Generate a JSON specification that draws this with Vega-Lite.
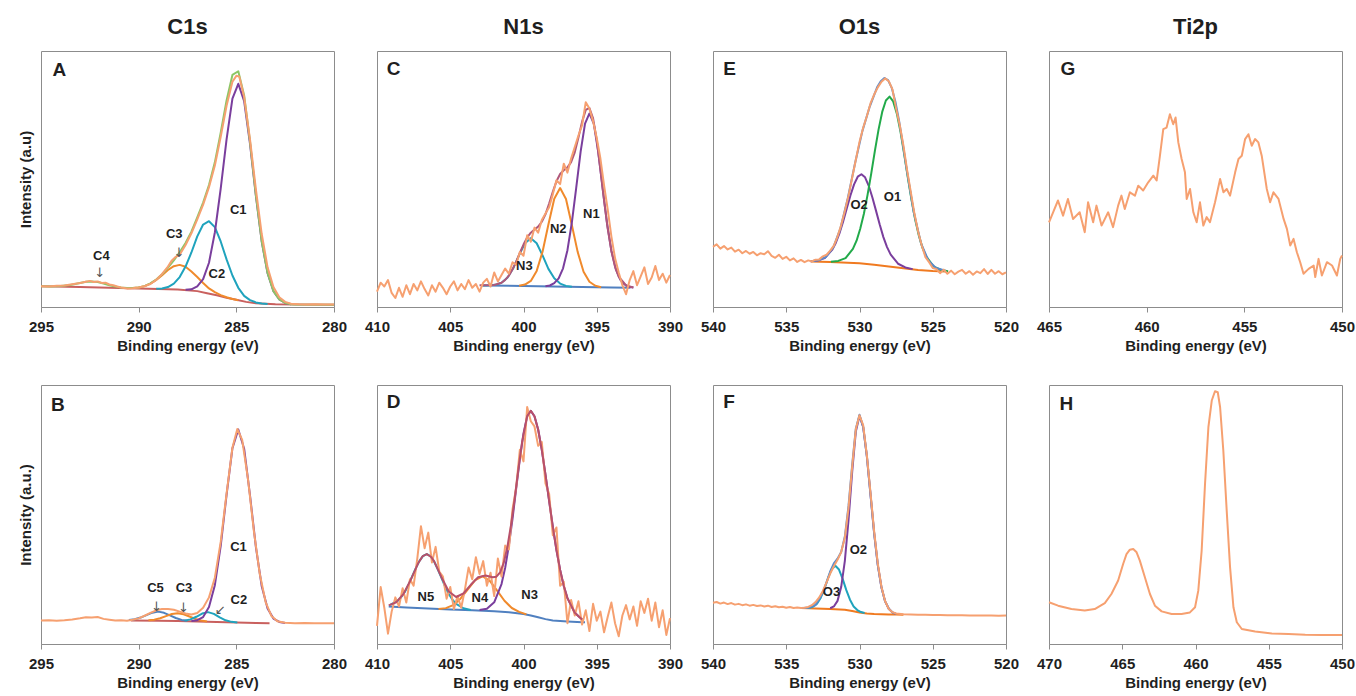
{
"$schema": "https://vega.github.io/schema/vega-lite/v6.json",
"background": "white",
"padding": {"left": 17, "top": 15, "right": 0, "bottom": 0},
"config": {
  "font": "Liberation Sans",
  "view": {"stroke": "#8c8c8c", "strokeWidth": 1},
  "legend": {"disable": true},
  "axisX": {"grid": false, "labelFlush": false, "labelOverlap": false, "labelFontSize": 15, "labelFontWeight": "bold", "labelColor": "#1f1f1f", "labelPadding": 7, "tickSize": 5, "tickColor": "#8c8c8c", "domainColor": "#8c8c8c", "titleFontSize": 15, "titleFontWeight": "bold", "titleColor": "#1f1f1f", "titlePadding": 4},
  "axisY": {"grid": false, "labels": false, "ticks": false, "domain": false, "titleFontSize": 15, "titleFontWeight": "bold", "titleColor": "#1f1f1f", "titlePadding": 8},
  "title": {"fontSize": 22, "fontWeight": "bold", "color": "#1f1f1f", "anchor": "middle", "baseline": "alphabetic", "offset": 12.5},
  "line": {"strokeWidth": 2, "strokeJoin": "round"},
  "text": {"font": "Liberation Sans"}
},
"datasets": {
"A_bg": [{"E":295,"I":8.1},{"E":293,"I":7.8},{"E":291,"I":7.4},{"E":289,"I":7.0},{"E":288,"I":6.8},{"E":287,"I":6.2},{"E":286.5,"I":5.4},{"E":286,"I":4.6},{"E":285.5,"I":3.6},{"E":285,"I":2.8},{"E":284.5,"I":2.0},{"E":284,"I":1.5},{"E":283,"I":1.1},{"E":282,"I":1.0},{"E":280,"I":0.9}],
"A_C1": [{"E":287.6,"I":6.7},{"E":287.3,"I":6.9},{"E":287.0,"I":8.1},{"E":286.7,"I":10.9},{"E":286.4,"I":17.3},{"E":286.1,"I":29.1},{"E":285.8,"I":46.2},{"E":285.5,"I":65.5},{"E":285.2,"I":81.4},{"E":284.9,"I":87.2},{"E":284.6,"I":80.4},{"E":284.3,"I":63.7},{"E":284.0,"I":43.5},{"E":283.7,"I":25.6},{"E":283.4,"I":13.2},{"E":283.1,"I":6.2},{"E":282.8,"I":3.0},{"E":282.5,"I":1.6},{"E":282.2,"I":1.1}],
"A_C2": [{"E":289.1,"I":7.1},{"E":288.8,"I":7.25},{"E":288.5,"I":7.8},{"E":288.2,"I":9.1},{"E":287.9,"I":11.7},{"E":287.6,"I":15.8},{"E":287.3,"I":21.3},{"E":287.0,"I":27.6},{"E":286.7,"I":32.2},{"E":286.4,"I":33.5},{"E":286.1,"I":31.2},{"E":285.8,"I":25.6},{"E":285.5,"I":18.6},{"E":285.2,"I":12.3},{"E":284.9,"I":7.5},{"E":284.6,"I":4.35},{"E":284.3,"I":2.7},{"E":284.0,"I":1.8},{"E":283.7,"I":1.4},{"E":283.4,"I":1.2}],
"A_C3": [{"E":290.6,"I":7.35},{"E":290.3,"I":7.45},{"E":290.0,"I":7.65},{"E":289.7,"I":8.15},{"E":289.4,"I":9.15},{"E":289.1,"I":10.6},{"E":288.8,"I":12.45},{"E":288.5,"I":14.45},{"E":288.2,"I":15.95},{"E":287.9,"I":16.45},{"E":287.6,"I":15.7},{"E":287.3,"I":13.85},{"E":287.0,"I":11.7},{"E":286.7,"I":9.4},{"E":286.4,"I":7.25},{"E":286.1,"I":5.8},{"E":285.8,"I":4.65},{"E":285.5,"I":3.8},{"E":285.2,"I":3.15},{"E":284.9,"I":2.6}],
"A_fit": [{"E":295,"I":8.1},{"E":294.5,"I":8.05},{"E":294,"I":8.2},{"E":293.5,"I":8.6},{"E":293,"I":9.4},{"E":292.7,"I":9.85},{"E":292.4,"I":10.0},{"E":292.1,"I":9.75},{"E":291.8,"I":9.15},{"E":291.5,"I":8.5},{"E":291.2,"I":7.98},{"E":290.9,"I":7.65},{"E":290.6,"I":7.45},{"E":290.3,"I":7.45},{"E":290.0,"I":7.65},{"E":289.7,"I":8.15},{"E":289.4,"I":9.2},{"E":289.1,"I":10.7},{"E":288.8,"I":12.75},{"E":288.5,"I":15.35},{"E":288.2,"I":18.2},{"E":287.9,"I":21.4},{"E":287.6,"I":25.0},{"E":287.3,"I":29.45},{"E":287.0,"I":35.0},{"E":286.7,"I":40.8},{"E":286.4,"I":47.65},{"E":286.1,"I":56.5},{"E":285.8,"I":68.05},{"E":285.5,"I":80.7},{"E":285.2,"I":90.66},{"E":284.9,"I":92.1},{"E":284.6,"I":82.65},{"E":284.3,"I":64.6},{"E":284.0,"I":43.8},{"E":283.7,"I":25.7},{"E":283.4,"I":13.3},{"E":283.1,"I":6.2},{"E":282.8,"I":2.95},{"E":282.5,"I":1.6},{"E":282.2,"I":1.1},{"E":282.0,"I":1.0},{"E":280.0,"I":0.9}],
"A_raw": [{"E":295,"I":8.1},{"E":294.6,"I":8.0},{"E":294.2,"I":8.3},{"E":293.8,"I":8.4},{"E":293.4,"I":8.9},{"E":293.0,"I":9.4},{"E":292.7,"I":9.9},{"E":292.5,"I":10.2},{"E":292.3,"I":9.8},{"E":292.1,"I":10.0},{"E":291.9,"I":9.4},{"E":291.7,"I":9.5},{"E":291.5,"I":8.8},{"E":291.3,"I":8.5},{"E":291.1,"I":8.0},{"E":290.9,"I":7.6},{"E":290.6,"I":7.2},{"E":290.3,"I":7.3},{"E":290.0,"I":7.6},{"E":289.7,"I":8.1},{"E":289.4,"I":9.0},{"E":289.1,"I":10.6},{"E":288.8,"I":12.9},{"E":288.5,"I":15.8},{"E":288.3,"I":18.2},{"E":288.1,"I":19.6},{"E":287.9,"I":20.4},{"E":287.6,"I":24.2},{"E":287.3,"I":28.8},{"E":287.0,"I":34.2},{"E":286.7,"I":40.0},{"E":286.4,"I":46.8},{"E":286.1,"I":55.3},{"E":285.8,"I":66.5},{"E":285.5,"I":78.6},{"E":285.2,"I":88.0},{"E":285.0,"I":90.3},{"E":284.85,"I":90.0},{"E":284.6,"I":82.0},{"E":284.3,"I":65.5},{"E":284.0,"I":46.0},{"E":283.7,"I":28.5},{"E":283.4,"I":15.5},{"E":283.1,"I":7.8},{"E":282.8,"I":3.8},{"E":282.5,"I":2.0},{"E":282.2,"I":1.3},{"E":281.8,"I":1.1},{"E":281.4,"I":1.0},{"E":281.0,"I":1.1},{"E":280.5,"I":1.0},{"E":280.0,"I":1.0}],
"A_lab": [{"E":284.9,"I":37.9,"t":"C1"},{"E":286.0,"I":12.8,"t":"C2"},{"E":288.18,"I":28.6,"t":"C3"},{"E":291.91,"I":19.8,"t":"C4"}],
"A_arr": [{"E":287.94,"I":21.2,"t":"↓"},{"E":292.0,"I":13.3,"t":"↓"}],
"A_let": [{"E":294.06,"I":92.4,"t":"A"}],
"B_bg": [{"E":290.4,"I":9.1},{"E":289,"I":9.0},{"E":288,"I":8.9},{"E":287,"I":8.7},{"E":286,"I":8.5},{"E":285,"I":8.3},{"E":284,"I":8.1},{"E":283.3,"I":8.0}],
"B_C5": [{"E":290.5,"I":9.25},{"E":290.2,"I":9.55},{"E":289.9,"I":10.2},{"E":289.6,"I":11.15},{"E":289.3,"I":12.1},{"E":289.0,"I":12.5},{"E":288.7,"I":12.05},{"E":288.4,"I":11.05},{"E":288.1,"I":10.05},{"E":287.8,"I":9.3},{"E":287.5,"I":8.95}],
"B_C3": [{"E":289.5,"I":9.13},{"E":289.2,"I":9.4},{"E":288.9,"I":9.96},{"E":288.6,"I":10.77},{"E":288.3,"I":11.58},{"E":288.0,"I":11.9},{"E":287.7,"I":11.5},{"E":287.4,"I":10.62},{"E":287.1,"I":9.7},{"E":286.8,"I":9.06},{"E":286.5,"I":8.73}],
"B_C2": [{"E":287.65,"I":9.03},{"E":287.35,"I":9.5},{"E":287.05,"I":10.51},{"E":286.75,"I":11.74},{"E":286.45,"I":12.3},{"E":286.15,"I":11.62},{"E":285.85,"I":10.27},{"E":285.55,"I":9.14},{"E":285.25,"I":8.55},{"E":284.95,"I":8.3}],
"B_C1": [{"E":287.3,"I":8.85},{"E":287.0,"I":9.2},{"E":286.7,"I":10.4},{"E":286.4,"I":14.3},{"E":286.1,"I":22.7},{"E":285.8,"I":37.9},{"E":285.5,"I":57.6},{"E":285.2,"I":75.6},{"E":284.9,"I":82.8},{"E":284.6,"I":75.4},{"E":284.3,"I":57.4},{"E":284.0,"I":37.5},{"E":283.7,"I":22.3},{"E":283.4,"I":13.7},{"E":283.1,"I":9.8},{"E":282.8,"I":8.5},{"E":282.5,"I":8.1}],
"B_raw": [{"E":295,"I":9.1},{"E":294.6,"I":9.2},{"E":294.2,"I":9.0},{"E":293.8,"I":9.2},{"E":293.4,"I":9.5},{"E":293.0,"I":9.9},{"E":292.7,"I":10.3},{"E":292.4,"I":10.2},{"E":292.1,"I":10.4},{"E":291.8,"I":9.7},{"E":291.5,"I":9.4},{"E":291.2,"I":9.1},{"E":290.9,"I":9.2},{"E":290.6,"I":9.0},{"E":290.3,"I":9.4},{"E":290.0,"I":9.9},{"E":289.7,"I":10.9},{"E":289.4,"I":12.0},{"E":289.1,"I":13.0},{"E":288.8,"I":13.5},{"E":288.5,"I":13.5},{"E":288.2,"I":13.2},{"E":287.9,"I":12.5},{"E":287.6,"I":11.8},{"E":287.3,"I":11.4},{"E":287.0,"I":12.0},{"E":286.7,"I":14.0},{"E":286.4,"I":18.0},{"E":286.1,"I":25.6},{"E":285.8,"I":39.4},{"E":285.5,"I":58.1},{"E":285.2,"I":75.8},{"E":284.95,"I":83.0},{"E":284.7,"I":78.8},{"E":284.4,"I":63.5},{"E":284.1,"I":43.5},{"E":283.8,"I":27.0},{"E":283.5,"I":16.2},{"E":283.2,"I":10.8},{"E":282.9,"I":8.8},{"E":282.5,"I":8.2},{"E":282.0,"I":8.0},{"E":281.5,"I":8.1},{"E":281.0,"I":8.0},{"E":280.5,"I":8.0},{"E":280.0,"I":8.0}],
"B_lab": [{"E":284.89,"I":37.4,"t":"C1"},{"E":289.14,"I":21.6,"t":"C5"},{"E":287.68,"I":21.6,"t":"C3"},{"E":284.87,"I":17.0,"t":"C2"}],
"B_arr": [{"E":289.09,"I":14.3,"t":"↓"},{"E":287.71,"I":14.0,"t":"↓"},{"E":285.83,"I":13.0,"t":"↙"}],
"B_let": [{"E":294.14,"I":92.3,"t":"B"}],
"C_bg": [{"E":402.8,"I":8.4},{"E":400,"I":8.2},{"E":397,"I":7.9},{"E":394,"I":7.6},{"E":392.7,"I":7.5}],
"C_N3": [{"E":402.8,"I":8.4},{"E":402.3,"I":8.45},{"E":401.9,"I":8.65},{"E":401.5,"I":9.45},{"E":401.1,"I":11.4},{"E":400.7,"I":15.1},{"E":400.3,"I":20.25},{"E":399.9,"I":24.9},{"E":399.5,"I":26.9},{"E":399.1,"I":24.9},{"E":398.7,"I":20.15},{"E":398.3,"I":14.9},{"E":397.9,"I":11.2},{"E":397.5,"I":9.15},{"E":397.1,"I":8.25},{"E":396.7,"I":7.95}],
"C_N2": [{"E":400.3,"I":8.3},{"E":399.9,"I":8.75},{"E":399.5,"I":10.2},{"E":399.1,"I":14.1},{"E":398.7,"I":21.6},{"E":398.3,"I":32.2},{"E":397.9,"I":42.3},{"E":397.5,"I":46.45},{"E":397.1,"I":42.2},{"E":396.7,"I":32.05},{"E":396.3,"I":21.45},{"E":395.9,"I":13.8},{"E":395.5,"I":9.85},{"E":395.1,"I":8.3},{"E":394.7,"I":7.75}],
"C_N1": [{"E":398.5,"I":8.1},{"E":398.2,"I":8.4},{"E":397.9,"I":9.3},{"E":397.6,"I":11.2},{"E":397.3,"I":15.1},{"E":397.0,"I":22.2},{"E":396.7,"I":33.0},{"E":396.4,"I":46.6},{"E":396.1,"I":60.7},{"E":395.8,"I":71.6},{"E":395.5,"I":75.6},{"E":395.2,"I":71.5},{"E":394.9,"I":60.6},{"E":394.6,"I":46.4},{"E":394.3,"I":32.7},{"E":394.0,"I":21.9},{"E":393.7,"I":14.8},{"E":393.4,"I":10.7},{"E":393.1,"I":8.8},{"E":392.8,"I":7.9},{"E":392.5,"I":7.6}],
"C_fit": [{"E":403,"I":8.45},{"E":402.5,"I":8.45},{"E":402,"I":8.6},{"E":401.5,"I":9.5},{"E":401.25,"I":10.6},{"E":401,"I":12.25},{"E":400.75,"I":14.7},{"E":400.5,"I":17.7},{"E":400.25,"I":21.1},{"E":400,"I":24.4},{"E":399.75,"I":27.15},{"E":399.5,"I":29.05},{"E":399.25,"I":30.3},{"E":399,"I":31.4},{"E":398.75,"I":33.3},{"E":398.5,"I":36.2},{"E":398.25,"I":40.4},{"E":398,"I":45.0},{"E":397.75,"I":49.1},{"E":397.5,"I":51.95},{"E":397.25,"I":53.4},{"E":397,"I":54.55},{"E":396.75,"I":56.6},{"E":396.5,"I":60.4},{"E":396.25,"I":66.2},{"E":396,"I":72.4},{"E":395.75,"I":77.0},{"E":395.5,"I":77.75},{"E":395.25,"I":73.7},{"E":395,"I":65.2},{"E":394.75,"I":53.8},{"E":394.5,"I":41.6},{"E":394.25,"I":30.6},{"E":394,"I":21.9},{"E":393.75,"I":15.7},{"E":393.5,"I":11.85},{"E":393,"I":8.4},{"E":392.5,"I":7.6}],
"C_raw": [{"E":410.0,"I":6.0},{"E":409.75,"I":9.5},{"E":409.5,"I":8.0},{"E":409.25,"I":10.5},{"E":409.0,"I":5.5},{"E":408.75,"I":3.5},{"E":408.5,"I":7.5},{"E":408.25,"I":4.0},{"E":408.0,"I":8.5},{"E":407.75,"I":5.0},{"E":407.5,"I":9.0},{"E":407.25,"I":6.5},{"E":407.0,"I":10.0},{"E":406.75,"I":7.0},{"E":406.5,"I":4.5},{"E":406.25,"I":8.5},{"E":406.0,"I":6.0},{"E":405.75,"I":9.5},{"E":405.5,"I":7.5},{"E":405.25,"I":5.0},{"E":405.0,"I":8.0},{"E":404.75,"I":10.0},{"E":404.5,"I":6.5},{"E":404.25,"I":9.0},{"E":404.0,"I":7.0},{"E":403.75,"I":10.5},{"E":403.5,"I":7.5},{"E":403.25,"I":9.0},{"E":403.0,"I":6.0},{"E":402.75,"I":9.5},{"E":402.5,"I":11.0},{"E":402.25,"I":8.0},{"E":402.0,"I":13.5},{"E":401.75,"I":10.0},{"E":401.5,"I":12.5},{"E":401.25,"I":15.0},{"E":401.0,"I":13.0},{"E":400.75,"I":17.5},{"E":400.5,"I":16.5},{"E":400.25,"I":21.5},{"E":400.0,"I":20.0},{"E":399.75,"I":28.0},{"E":399.5,"I":25.5},{"E":399.25,"I":31.0},{"E":399.0,"I":29.0},{"E":398.75,"I":34.0},{"E":398.5,"I":36.5},{"E":398.25,"I":39.0},{"E":398.0,"I":44.0},{"E":397.75,"I":49.5},{"E":397.5,"I":48.0},{"E":397.25,"I":56.0},{"E":397.0,"I":52.5},{"E":396.75,"I":58.0},{"E":396.5,"I":62.5},{"E":396.25,"I":67.0},{"E":396.0,"I":71.0},{"E":395.75,"I":80.0},{"E":395.5,"I":77.5},{"E":395.25,"I":72.5},{"E":395.0,"I":66.0},{"E":394.75,"I":58.0},{"E":394.5,"I":47.5},{"E":394.25,"I":38.0},{"E":394.0,"I":27.5},{"E":393.75,"I":19.0},{"E":393.5,"I":13.5},{"E":393.25,"I":8.5},{"E":393.0,"I":5.0},{"E":392.75,"I":10.5},{"E":392.5,"I":14.0},{"E":392.25,"I":8.5},{"E":392.0,"I":12.0},{"E":391.75,"I":15.5},{"E":391.5,"I":9.0},{"E":391.25,"I":11.5},{"E":391.0,"I":16.0},{"E":390.75,"I":10.5},{"E":390.5,"I":13.0},{"E":390.25,"I":9.5},{"E":390.0,"I":12.5}],
"C_lab": [{"E":395.37,"I":36.4,"t":"N1"},{"E":397.63,"I":30.5,"t":"N2"},{"E":399.94,"I":16.2,"t":"N3"}],
"C_let": [{"E":408.86,"I":92.9,"t":"C"}],
"D_bg": [{"E":409.2,"I":14.5},{"E":408,"I":14.1},{"E":406.5,"I":13.7},{"E":405,"I":13.3},{"E":403.5,"I":13.0},{"E":402,"I":12.6},{"E":401,"I":12.3},{"E":400,"I":11.6},{"E":399.5,"I":11.0},{"E":399,"I":10.3},{"E":398.5,"I":9.6},{"E":398,"I":9.1},{"E":397,"I":8.7},{"E":396,"I":8.4},{"E":395.8,"I":8.4}],
"D_N5": [{"E":409.1,"I":15.1},{"E":408.6,"I":16.6},{"E":408.35,"I":18.05},{"E":408.1,"I":20.1},{"E":407.85,"I":22.85},{"E":407.6,"I":26.1},{"E":407.35,"I":29.3},{"E":407.1,"I":32.1},{"E":406.85,"I":34.05},{"E":406.6,"I":34.7},{"E":406.35,"I":33.95},{"E":406.1,"I":31.85},{"E":405.85,"I":28.85},{"E":405.6,"I":25.5},{"E":405.35,"I":22.15},{"E":405.1,"I":19.3},{"E":404.85,"I":17.1},{"E":404.6,"I":15.5},{"E":404.1,"I":13.8},{"E":403.6,"I":13.1}],
"D_N4": [{"E":405.8,"I":13.55},{"E":405.3,"I":13.85},{"E":404.8,"I":15.0},{"E":404.3,"I":17.5},{"E":403.8,"I":21.1},{"E":403.3,"I":24.7},{"E":402.8,"I":26.15},{"E":402.3,"I":24.4},{"E":401.8,"I":20.6},{"E":401.3,"I":16.7},{"E":400.8,"I":13.9},{"E":400.3,"I":12.4},{"E":399.8,"I":11.45}],
"D_N3": [{"E":403.0,"I":13.1},{"E":402.5,"I":13.6},{"E":402.0,"I":16.1},{"E":401.5,"I":23.15},{"E":401.25,"I":29.45},{"E":401.0,"I":38.0},{"E":400.75,"I":48.35},{"E":400.5,"I":60.0},{"E":400.25,"I":71.4},{"E":400.0,"I":81.3},{"E":399.75,"I":87.9},{"E":399.5,"I":90.0},{"E":399.25,"I":87.95},{"E":399.0,"I":82.8},{"E":398.75,"I":74.95},{"E":398.5,"I":65.4},{"E":398.25,"I":55.25},{"E":398.0,"I":45.3},{"E":397.75,"I":36.3},{"E":397.5,"I":28.6},{"E":397.25,"I":22.4},{"E":397.0,"I":17.7},{"E":396.5,"I":12.05},{"E":396.0,"I":9.5}],
"D_fit": [{"E":409.2,"I":14.9},{"E":408.7,"I":16.1},{"E":408.2,"I":19.25},{"E":407.7,"I":24.75},{"E":407.2,"I":31.05},{"E":406.9,"I":33.8},{"E":406.6,"I":34.7},{"E":406.3,"I":33.6},{"E":406.1,"I":31.9},{"E":405.6,"I":25.8},{"E":405.1,"I":20.25},{"E":404.6,"I":18.15},{"E":404.1,"I":19.5},{"E":403.6,"I":22.85},{"E":403.1,"I":25.75},{"E":402.6,"I":26.45},{"E":402.1,"I":25.75},{"E":401.85,"I":26.0},{"E":401.6,"I":27.6},{"E":401.35,"I":31.3},{"E":401.1,"I":37.45},{"E":400.85,"I":46.0},{"E":400.6,"I":56.2},{"E":400.35,"I":67.5},{"E":400.1,"I":77.85},{"E":399.75,"I":88.0},{"E":399.5,"I":90.06},{"E":399.25,"I":87.95},{"E":399.0,"I":82.8},{"E":398.75,"I":74.95},{"E":398.5,"I":65.4},{"E":398.25,"I":55.25},{"E":398.0,"I":45.3},{"E":397.75,"I":36.3},{"E":397.5,"I":28.6},{"E":397.25,"I":22.4},{"E":397.0,"I":17.7},{"E":396.5,"I":12.05},{"E":396.0,"I":9.5}],
"D_raw": [{"E":410.0,"I":7.0},{"E":409.75,"I":22.0},{"E":409.5,"I":14.0},{"E":409.25,"I":4.0},{"E":409.0,"I":12.5},{"E":408.75,"I":18.0},{"E":408.5,"I":14.5},{"E":408.25,"I":21.5},{"E":408.0,"I":16.0},{"E":407.75,"I":25.0},{"E":407.5,"I":22.5},{"E":407.25,"I":33.0},{"E":407.0,"I":45.5},{"E":406.75,"I":37.0},{"E":406.5,"I":43.0},{"E":406.25,"I":31.5},{"E":406.0,"I":37.5},{"E":405.75,"I":28.0},{"E":405.5,"I":26.0},{"E":405.25,"I":17.5},{"E":405.0,"I":22.0},{"E":404.75,"I":13.5},{"E":404.5,"I":18.5},{"E":404.25,"I":14.0},{"E":404.0,"I":21.0},{"E":403.75,"I":29.5},{"E":403.5,"I":25.0},{"E":403.25,"I":33.5},{"E":403.0,"I":27.0},{"E":402.75,"I":32.0},{"E":402.5,"I":22.5},{"E":402.25,"I":27.5},{"E":402.0,"I":18.5},{"E":401.75,"I":33.0},{"E":401.5,"I":26.0},{"E":401.25,"I":38.0},{"E":401.0,"I":36.5},{"E":400.75,"I":52.0},{"E":400.5,"I":60.5},{"E":400.25,"I":75.0},{"E":400.0,"I":70.5},{"E":399.75,"I":91.5},{"E":399.5,"I":86.0},{"E":399.25,"I":84.0},{"E":399.0,"I":76.5},{"E":398.75,"I":78.0},{"E":398.5,"I":62.0},{"E":398.25,"I":58.0},{"E":398.0,"I":42.0},{"E":397.75,"I":45.0},{"E":397.5,"I":22.5},{"E":397.25,"I":24.0},{"E":397.0,"I":8.0},{"E":396.75,"I":17.0},{"E":396.5,"I":11.0},{"E":396.25,"I":16.5},{"E":396.0,"I":7.5},{"E":395.75,"I":13.0},{"E":395.5,"I":5.0},{"E":395.25,"I":15.5},{"E":395.0,"I":9.0},{"E":394.75,"I":12.5},{"E":394.5,"I":4.5},{"E":394.25,"I":10.5},{"E":394.0,"I":16.0},{"E":393.75,"I":8.0},{"E":393.5,"I":3.0},{"E":393.25,"I":11.0},{"E":393.0,"I":15.0},{"E":392.75,"I":9.5},{"E":392.5,"I":14.5},{"E":392.25,"I":7.0},{"E":392.0,"I":16.5},{"E":391.75,"I":12.0},{"E":391.5,"I":17.5},{"E":391.25,"I":9.0},{"E":391.0,"I":16.0},{"E":390.75,"I":6.5},{"E":390.5,"I":13.0},{"E":390.25,"I":3.5},{"E":390.0,"I":10.0}],
"D_lab": [{"E":406.66,"I":18.2,"t":"N5"},{"E":402.98,"I":17.8,"t":"N4"},{"E":399.58,"I":18.8,"t":"N3"}],
"D_let": [{"E":408.86,"I":93.5,"t":"D"}],
"E_bg": [{"E":533.3,"I":17.8},{"E":532,"I":17.6},{"E":530,"I":17.1},{"E":529,"I":16.5},{"E":528,"I":15.8},{"E":527,"I":15.1},{"E":526,"I":14.45},{"E":525,"I":14.1},{"E":524.1,"I":13.9}],
"E_O2": [{"E":533.37,"I":17.9},{"E":532.87,"I":18.15},{"E":532.37,"I":19.15},{"E":531.87,"I":22.3},{"E":531.62,"I":25.0},{"E":531.37,"I":28.75},{"E":531.12,"I":33.35},{"E":530.87,"I":38.5},{"E":530.62,"I":43.55},{"E":530.37,"I":47.9},{"E":530.12,"I":50.9},{"E":529.87,"I":51.85},{"E":529.62,"I":50.65},{"E":529.37,"I":47.35},{"E":529.12,"I":42.8},{"E":528.87,"I":37.55},{"E":528.62,"I":32.2},{"E":528.37,"I":27.3},{"E":528.12,"I":23.4},{"E":527.87,"I":20.45},{"E":527.37,"I":16.9},{"E":526.87,"I":15.45},{"E":526.37,"I":14.8}],
"E_O1": [{"E":531.95,"I":17.7},{"E":531.45,"I":18.0},{"E":530.95,"I":19.1},{"E":530.45,"I":22.7},{"E":530.2,"I":25.9},{"E":529.95,"I":30.55},{"E":529.7,"I":36.45},{"E":529.45,"I":43.8},{"E":529.2,"I":52.1},{"E":528.95,"I":61.0},{"E":528.7,"I":69.3},{"E":528.45,"I":76.2},{"E":528.2,"I":80.65},{"E":527.95,"I":82.2},{"E":527.7,"I":80.3},{"E":527.45,"I":75.55},{"E":527.2,"I":68.4},{"E":526.95,"I":59.7},{"E":526.7,"I":50.55},{"E":526.45,"I":41.9},{"E":526.2,"I":34.2},{"E":525.95,"I":27.9},{"E":525.7,"I":23.1},{"E":525.45,"I":19.75},{"E":524.95,"I":15.9},{"E":524.45,"I":14.5},{"E":523.95,"I":14.0}],
"E_fit": [{"E":533.3,"I":17.9},{"E":532.8,"I":18.25},{"E":532.3,"I":19.5},{"E":531.8,"I":23.15},{"E":531.3,"I":30.75},{"E":530.8,"I":42.5},{"E":530.3,"I":56.25},{"E":529.8,"I":68.8},{"E":529.3,"I":78.3},{"E":528.8,"I":85.8},{"E":528.55,"I":88.2},{"E":528.3,"I":89.4},{"E":528.05,"I":88.6},{"E":527.8,"I":85.6},{"E":527.55,"I":80.2},{"E":527.3,"I":72.75},{"E":527.05,"I":63.95},{"E":526.8,"I":54.5},{"E":526.3,"I":37.1},{"E":525.8,"I":24.85},{"E":525.3,"I":18.2},{"E":524.8,"I":15.35},{"E":524.1,"I":14.1}],
"E_raw": [{"E":540.0,"I":23.5},{"E":539.75,"I":24.5},{"E":539.5,"I":22.8},{"E":539.25,"I":23.8},{"E":539.0,"I":22.5},{"E":538.75,"I":23.2},{"E":538.5,"I":21.6},{"E":538.25,"I":22.4},{"E":538.0,"I":21.0},{"E":537.75,"I":21.9},{"E":537.5,"I":20.8},{"E":537.25,"I":21.5},{"E":537.0,"I":20.2},{"E":536.75,"I":21.0},{"E":536.5,"I":20.6},{"E":536.25,"I":21.8},{"E":536.0,"I":20.0},{"E":535.75,"I":19.2},{"E":535.5,"I":20.4},{"E":535.25,"I":18.8},{"E":535.0,"I":19.6},{"E":534.75,"I":18.2},{"E":534.5,"I":19.0},{"E":534.25,"I":17.6},{"E":534.0,"I":18.4},{"E":533.75,"I":17.5},{"E":533.5,"I":18.2},{"E":533.25,"I":17.8},{"E":533.0,"I":18.5},{"E":532.75,"I":18.6},{"E":532.5,"I":19.8},{"E":532.25,"I":20.4},{"E":532.0,"I":22.0},{"E":531.75,"I":24.0},{"E":531.5,"I":27.5},{"E":531.25,"I":32.0},{"E":531.0,"I":37.5},{"E":530.75,"I":43.5},{"E":530.5,"I":50.5},{"E":530.25,"I":57.5},{"E":530.0,"I":64.5},{"E":529.75,"I":70.0},{"E":529.5,"I":74.5},{"E":529.25,"I":79.5},{"E":529.0,"I":83.0},{"E":528.75,"I":85.8},{"E":528.5,"I":88.0},{"E":528.25,"I":89.3},{"E":528.0,"I":88.2},{"E":527.75,"I":85.0},{"E":527.5,"I":77.5},{"E":527.25,"I":71.0},{"E":527.0,"I":63.0},{"E":526.75,"I":53.5},{"E":526.5,"I":45.0},{"E":526.25,"I":36.5},{"E":526.0,"I":29.5},{"E":525.75,"I":24.0},{"E":525.5,"I":19.5},{"E":525.25,"I":17.5},{"E":525.0,"I":15.2},{"E":524.75,"I":14.8},{"E":524.5,"I":13.2},{"E":524.25,"I":14.6},{"E":524.0,"I":13.0},{"E":523.75,"I":14.2},{"E":523.5,"I":12.8},{"E":523.25,"I":13.8},{"E":523.0,"I":14.5},{"E":522.75,"I":13.0},{"E":522.5,"I":14.0},{"E":522.25,"I":12.6},{"E":522.0,"I":13.9},{"E":521.75,"I":13.2},{"E":521.5,"I":14.8},{"E":521.25,"I":12.9},{"E":521.0,"I":14.5},{"E":520.75,"I":13.0},{"E":520.5,"I":14.0},{"E":520.25,"I":12.8},{"E":520.0,"I":13.5}],
"E_lab": [{"E":530.03,"I":39.9,"t":"O2"},{"E":527.75,"I":43.1,"t":"O1"}],
"E_let": [{"E":538.86,"I":93.1,"t":"E"}],
"F_bg": [{"E":534,"I":13.9},{"E":533.5,"I":13.8},{"E":532.5,"I":13.6},{"E":532,"I":13.5},{"E":531,"I":13.2},{"E":530.5,"I":12.7},{"E":530,"I":12.2},{"E":529.5,"I":11.8},{"E":529,"I":11.6},{"E":528,"I":11.4},{"E":527.5,"I":11.35},{"E":527,"I":11.3}],
"F_O3": [{"E":533.65,"I":13.85},{"E":533.4,"I":14.0},{"E":533.15,"I":14.45},{"E":532.9,"I":15.55},{"E":532.65,"I":17.8},{"E":532.4,"I":21.25},{"E":532.15,"I":25.4},{"E":531.9,"I":28.9},{"E":531.65,"I":30.2},{"E":531.4,"I":28.75},{"E":531.15,"I":25.15},{"E":530.9,"I":20.8},{"E":530.65,"I":17.1},{"E":530.4,"I":14.5},{"E":530.15,"I":13.1},{"E":529.9,"I":12.35},{"E":529.65,"I":12.0}],
"F_O2": [{"E":532.0,"I":13.8},{"E":531.75,"I":14.5},{"E":531.5,"I":16.65},{"E":531.25,"I":22.0},{"E":531.0,"I":32.1},{"E":530.75,"I":47.8},{"E":530.5,"I":66.4},{"E":530.25,"I":82.05},{"E":530.0,"I":88.1},{"E":529.75,"I":83.8},{"E":529.5,"I":72.6},{"E":529.25,"I":57.8},{"E":529.0,"I":42.8},{"E":528.75,"I":30.45},{"E":528.5,"I":21.8},{"E":528.25,"I":16.45},{"E":528.0,"I":13.6},{"E":527.75,"I":12.2},{"E":527.5,"I":11.65}],
"F_fit": [{"E":534.0,"I":13.9},{"E":533.5,"I":13.95},{"E":533.0,"I":15.05},{"E":532.5,"I":19.8},{"E":532.25,"I":23.8},{"E":532.0,"I":28.0},{"E":531.75,"I":31.1},{"E":531.5,"I":32.95},{"E":531.25,"I":35.5},{"E":531.0,"I":41.5},{"E":530.75,"I":53.3},{"E":530.5,"I":69.1},{"E":530.25,"I":83.15},{"E":530.0,"I":88.5},{"E":529.75,"I":83.9},{"E":529.5,"I":72.6},{"E":529.25,"I":57.8},{"E":529.0,"I":42.8},{"E":528.75,"I":30.45},{"E":528.5,"I":21.8},{"E":528.25,"I":16.45},{"E":528.0,"I":13.6},{"E":527.75,"I":12.2},{"E":527.5,"I":11.65}],
"F_raw": [{"E":540.0,"I":15.9},{"E":539.75,"I":16.2},{"E":539.5,"I":15.6},{"E":539.25,"I":16.0},{"E":539.0,"I":15.4},{"E":538.75,"I":15.8},{"E":538.5,"I":15.2},{"E":538.25,"I":15.5},{"E":538.0,"I":15.0},{"E":537.75,"I":15.3},{"E":537.5,"I":14.8},{"E":537.25,"I":15.1},{"E":537.0,"I":14.7},{"E":536.75,"I":14.9},{"E":536.5,"I":14.5},{"E":536.25,"I":14.8},{"E":536.0,"I":14.3},{"E":535.75,"I":14.6},{"E":535.5,"I":14.2},{"E":535.25,"I":14.4},{"E":535.0,"I":14.0},{"E":534.75,"I":14.3},{"E":534.5,"I":13.9},{"E":534.25,"I":14.1},{"E":534.0,"I":13.9},{"E":533.75,"I":14.0},{"E":533.5,"I":14.3},{"E":533.25,"I":15.0},{"E":533.0,"I":16.2},{"E":532.75,"I":18.0},{"E":532.5,"I":20.5},{"E":532.25,"I":23.8},{"E":532.0,"I":27.2},{"E":531.75,"I":30.0},{"E":531.5,"I":32.5},{"E":531.25,"I":35.5},{"E":531.0,"I":41.0},{"E":530.75,"I":52.5},{"E":530.5,"I":68.5},{"E":530.25,"I":83.0},{"E":530.0,"I":88.3},{"E":529.75,"I":84.5},{"E":529.5,"I":73.0},{"E":529.25,"I":58.5},{"E":529.0,"I":43.5},{"E":528.75,"I":31.0},{"E":528.5,"I":22.0},{"E":528.25,"I":16.5},{"E":528.0,"I":13.5},{"E":527.75,"I":12.3},{"E":527.5,"I":11.8},{"E":527.0,"I":11.5},{"E":526.5,"I":11.4},{"E":526.0,"I":11.3},{"E":525.5,"I":11.3},{"E":525.0,"I":11.2},{"E":524.5,"I":11.2},{"E":524.0,"I":11.1},{"E":523.5,"I":11.1},{"E":523.0,"I":11.1},{"E":522.5,"I":11.0},{"E":522.0,"I":11.0},{"E":521.5,"I":11.0},{"E":521.0,"I":11.0},{"E":520.5,"I":10.9},{"E":520.0,"I":11.0}],
"F_lab": [{"E":530.08,"I":36.3,"t":"O2"},{"E":531.91,"I":20.1,"t":"O3"}],
"F_let": [{"E":538.9,"I":93.3,"t":"F"}],
"G_raw": [{"E":465.0,"I":33.1},{"E":464.79,"I":37.0},{"E":464.54,"I":41.6},{"E":464.28,"I":35.7},{"E":464.03,"I":42.2},{"E":463.77,"I":34.4},{"E":463.43,"I":37.0},{"E":463.17,"I":29.2},{"E":463.0,"I":40.9},{"E":462.74,"I":33.1},{"E":462.57,"I":39.6},{"E":462.31,"I":31.8},{"E":461.97,"I":37.0},{"E":461.72,"I":31.2},{"E":461.46,"I":39.6},{"E":461.29,"I":43.5},{"E":461.12,"I":38.3},{"E":460.86,"I":44.8},{"E":460.6,"I":43.5},{"E":460.43,"I":47.4},{"E":460.18,"I":45.5},{"E":459.92,"I":48.7},{"E":459.66,"I":51.3},{"E":459.49,"I":49.4},{"E":459.32,"I":59.1},{"E":459.15,"I":69.5},{"E":458.98,"I":70.1},{"E":458.81,"I":75.3},{"E":458.64,"I":71.4},{"E":458.52,"I":74.0},{"E":458.38,"I":64.3},{"E":458.21,"I":57.8},{"E":458.04,"I":52.6},{"E":457.95,"I":42.2},{"E":457.78,"I":46.1},{"E":457.61,"I":37.0},{"E":457.44,"I":33.1},{"E":457.27,"I":40.9},{"E":457.1,"I":31.8},{"E":456.93,"I":35.1},{"E":456.76,"I":33.1},{"E":456.5,"I":40.9},{"E":456.24,"I":50.0},{"E":456.07,"I":44.8},{"E":455.9,"I":46.1},{"E":455.73,"I":43.5},{"E":455.47,"I":52.6},{"E":455.3,"I":57.8},{"E":455.13,"I":59.1},{"E":454.96,"I":65.6},{"E":454.79,"I":67.5},{"E":454.62,"I":63.0},{"E":454.45,"I":65.6},{"E":454.28,"I":64.3},{"E":454.11,"I":59.1},{"E":453.85,"I":46.1},{"E":453.68,"I":40.9},{"E":453.51,"I":44.8},{"E":453.25,"I":42.2},{"E":452.99,"I":34.4},{"E":452.82,"I":30.5},{"E":452.65,"I":24.0},{"E":452.48,"I":26.6},{"E":452.31,"I":21.4},{"E":452.14,"I":17.5},{"E":451.97,"I":13.0},{"E":451.71,"I":14.9},{"E":451.45,"I":16.2},{"E":451.37,"I":11.7},{"E":451.2,"I":18.8},{"E":451.03,"I":12.3},{"E":450.77,"I":17.5},{"E":450.51,"I":16.2},{"E":450.26,"I":12.3},{"E":450.09,"I":18.8},{"E":450.0,"I":20.1}],
"G_let": [{"E":464.03,"I":92.9,"t":"G"}],
"H_raw": [{"E":470.0,"I":16.1},{"E":469.38,"I":14.8},{"E":468.47,"I":13.5},{"E":467.56,"I":12.9},{"E":466.88,"I":13.5},{"E":466.19,"I":15.8},{"E":465.74,"I":19.3},{"E":465.28,"I":24.5},{"E":464.94,"I":30.9},{"E":464.71,"I":34.7},{"E":464.48,"I":36.4},{"E":464.25,"I":36.7},{"E":464.02,"I":35.4},{"E":463.8,"I":32.2},{"E":463.45,"I":25.7},{"E":463.11,"I":19.3},{"E":462.77,"I":14.8},{"E":462.31,"I":12.6},{"E":461.63,"I":11.6},{"E":460.95,"I":11.6},{"E":460.38,"I":12.2},{"E":460.03,"I":14.2},{"E":459.81,"I":20.6},{"E":459.58,"I":36.0},{"E":459.35,"I":61.8},{"E":459.12,"I":83.7},{"E":458.89,"I":94.0},{"E":458.67,"I":97.6},{"E":458.48,"I":97.2},{"E":458.32,"I":91.4},{"E":458.1,"I":74.6},{"E":457.87,"I":51.5},{"E":457.64,"I":29.6},{"E":457.41,"I":14.2},{"E":457.18,"I":8.4},{"E":456.84,"I":5.8},{"E":455.93,"I":4.8},{"E":454.79,"I":4.1},{"E":453.65,"I":3.9},{"E":452.51,"I":3.6},{"E":451.37,"I":3.5},{"E":450.0,"I":3.5}],
"H_let": [{"E":468.81,"I":92.7,"t":"H"}]
},
"columns": 4,
"bounds": "flush",
"spacing": {"row": 78, "column": 43},
"resolve": {"scale": {"color": "independent"}},
"concat": [
{
 "width": 293, "height": 256, "title": "C1s",
 "encoding": {
  "x": {"field": "E", "type": "quantitative", "scale": {"domain": [280, 295], "reverse": true, "nice": false, "zero": false}, "axis": {"values": [280, 285, 290, 295], "title": "Binding energy (eV)"}},
  "y": {"field": "I", "type": "quantitative", "scale": {"domain": [0, 100], "nice": false}, "axis": {"title": "Intensity (a.u)"}}
 },
 "layer": [
  {"data": {"name": "A_bg"}, "mark": "line", "encoding": {"color": {"datum": "background", "type": "nominal", "scale": {"domain": ["background", "C3", "C2", "C1", "fit", "raw data"], "range": ["#C9605E", "#F08A2C", "#1FA3BD", "#7A3E9D", "#8CC665", "#F6A070"]}}}},
  {"data": {"name": "A_C3"}, "mark": "line", "encoding": {"color": {"datum": "C3", "type": "nominal"}}},
  {"data": {"name": "A_C2"}, "mark": "line", "encoding": {"color": {"datum": "C2", "type": "nominal"}}},
  {"data": {"name": "A_C1"}, "mark": "line", "encoding": {"color": {"datum": "C1", "type": "nominal"}}},
  {"data": {"name": "A_fit"}, "mark": "line", "encoding": {"color": {"datum": "fit", "type": "nominal"}}},
  {"data": {"name": "A_raw"}, "mark": "line", "encoding": {"color": {"datum": "raw data", "type": "nominal"}}},
  {"data": {"name": "A_lab"}, "mark": {"type": "text", "fontSize": 13, "fontWeight": "bold", "color": "#1f1f1f"}, "encoding": {"text": {"field": "t"}}},
  {"data": {"name": "A_arr"}, "mark": {"type": "text", "fontSize": 13, "color": "#555555", "font": "DejaVu Sans"}, "encoding": {"text": {"field": "t"}}},
  {"data": {"name": "A_let"}, "mark": {"type": "text", "fontSize": 19, "fontWeight": "bold", "color": "#1f1f1f"}, "encoding": {"text": {"field": "t"}}}
 ]
},
{
 "width": 293, "height": 256, "title": "N1s",
 "encoding": {
  "x": {"field": "E", "type": "quantitative", "scale": {"domain": [390, 410], "reverse": true, "nice": false, "zero": false}, "axis": {"values": [390, 395, 400, 405, 410], "title": "Binding energy (eV)"}},
  "y": {"field": "I", "type": "quantitative", "scale": {"domain": [0, 100], "nice": false}, "axis": null}
 },
 "layer": [
  {"data": {"name": "C_bg"}, "mark": "line", "encoding": {"color": {"datum": "background", "type": "nominal", "scale": {"domain": ["background", "N3", "N2", "N1", "fit", "raw data"], "range": ["#5080C0", "#1FA3BD", "#F08A2C", "#7A3E9D", "#B0577A", "#F6A070"]}}}},
  {"data": {"name": "C_N3"}, "mark": "line", "encoding": {"color": {"datum": "N3", "type": "nominal"}}},
  {"data": {"name": "C_N2"}, "mark": "line", "encoding": {"color": {"datum": "N2", "type": "nominal"}}},
  {"data": {"name": "C_N1"}, "mark": "line", "encoding": {"color": {"datum": "N1", "type": "nominal"}}},
  {"data": {"name": "C_fit"}, "mark": "line", "encoding": {"color": {"datum": "fit", "type": "nominal"}}},
  {"data": {"name": "C_raw"}, "mark": "line", "encoding": {"color": {"datum": "raw data", "type": "nominal"}}},
  {"data": {"name": "C_lab"}, "mark": {"type": "text", "fontSize": 13, "fontWeight": "bold", "color": "#1f1f1f"}, "encoding": {"text": {"field": "t"}}},
  {"data": {"name": "C_let"}, "mark": {"type": "text", "fontSize": 19, "fontWeight": "bold", "color": "#1f1f1f"}, "encoding": {"text": {"field": "t"}}}
 ]
},
{
 "width": 293, "height": 256, "title": "O1s",
 "encoding": {
  "x": {"field": "E", "type": "quantitative", "scale": {"domain": [520, 540], "reverse": true, "nice": false, "zero": false}, "axis": {"values": [520, 525, 530, 535, 540], "title": "Binding energy (eV)"}},
  "y": {"field": "I", "type": "quantitative", "scale": {"domain": [0, 100], "nice": false}, "axis": null}
 },
 "layer": [
  {"data": {"name": "E_bg"}, "mark": "line", "encoding": {"color": {"datum": "background", "type": "nominal", "scale": {"domain": ["background", "O2", "O1", "fit", "raw data"], "range": ["#F07A20", "#7A3E9D", "#22AA4A", "#5A8ACB", "#F6A070"]}}}},
  {"data": {"name": "E_O2"}, "mark": "line", "encoding": {"color": {"datum": "O2", "type": "nominal"}}},
  {"data": {"name": "E_O1"}, "mark": "line", "encoding": {"color": {"datum": "O1", "type": "nominal"}}},
  {"data": {"name": "E_fit"}, "mark": "line", "encoding": {"color": {"datum": "fit", "type": "nominal"}}},
  {"data": {"name": "E_raw"}, "mark": "line", "encoding": {"color": {"datum": "raw data", "type": "nominal"}}},
  {"data": {"name": "E_lab"}, "mark": {"type": "text", "fontSize": 13, "fontWeight": "bold", "color": "#1f1f1f"}, "encoding": {"text": {"field": "t"}}},
  {"data": {"name": "E_let"}, "mark": {"type": "text", "fontSize": 19, "fontWeight": "bold", "color": "#1f1f1f"}, "encoding": {"text": {"field": "t"}}}
 ]
},
{
 "width": 293, "height": 256, "title": "Ti2p",
 "encoding": {
  "x": {"field": "E", "type": "quantitative", "scale": {"domain": [450, 465], "reverse": true, "nice": false, "zero": false}, "axis": {"values": [450, 455, 460, 465], "title": "Binding energy (eV)"}},
  "y": {"field": "I", "type": "quantitative", "scale": {"domain": [0, 100], "nice": false}, "axis": null}
 },
 "layer": [
  {"data": {"name": "G_raw"}, "mark": "line", "encoding": {"color": {"datum": "raw data", "type": "nominal", "scale": {"domain": ["raw data"], "range": ["#F6A070"]}}}},
  {"data": {"name": "G_let"}, "mark": {"type": "text", "fontSize": 19, "fontWeight": "bold", "color": "#1f1f1f"}, "encoding": {"text": {"field": "t"}}}
 ]
},
{
 "width": 293, "height": 259,
 "encoding": {
  "x": {"field": "E", "type": "quantitative", "scale": {"domain": [280, 295], "reverse": true, "nice": false, "zero": false}, "axis": {"values": [280, 285, 290, 295], "title": "Binding energy (eV)"}},
  "y": {"field": "I", "type": "quantitative", "scale": {"domain": [0, 100], "nice": false}, "axis": {"title": "Intensity (a.u.)"}}
 },
 "layer": [
  {"data": {"name": "B_bg"}, "mark": "line", "encoding": {"color": {"datum": "background", "type": "nominal", "scale": {"domain": ["background", "C5", "C3", "C2", "C1", "raw data"], "range": ["#C9605E", "#4F81BD", "#F08A2C", "#1FA3BD", "#7A3E9D", "#F6A070"]}}}},
  {"data": {"name": "B_C5"}, "mark": "line", "encoding": {"color": {"datum": "C5", "type": "nominal"}}},
  {"data": {"name": "B_C3"}, "mark": "line", "encoding": {"color": {"datum": "C3", "type": "nominal"}}},
  {"data": {"name": "B_C2"}, "mark": "line", "encoding": {"color": {"datum": "C2", "type": "nominal"}}},
  {"data": {"name": "B_C1"}, "mark": "line", "encoding": {"color": {"datum": "C1", "type": "nominal"}}},
  {"data": {"name": "B_raw"}, "mark": "line", "encoding": {"color": {"datum": "raw data", "type": "nominal"}}},
  {"data": {"name": "B_lab"}, "mark": {"type": "text", "fontSize": 13, "fontWeight": "bold", "color": "#1f1f1f"}, "encoding": {"text": {"field": "t"}}},
  {"data": {"name": "B_arr"}, "mark": {"type": "text", "fontSize": 13, "color": "#555555", "font": "DejaVu Sans"}, "encoding": {"text": {"field": "t"}}},
  {"data": {"name": "B_let"}, "mark": {"type": "text", "fontSize": 19, "fontWeight": "bold", "color": "#1f1f1f"}, "encoding": {"text": {"field": "t"}}}
 ]
},
{
 "width": 293, "height": 259,
 "encoding": {
  "x": {"field": "E", "type": "quantitative", "scale": {"domain": [390, 410], "reverse": true, "nice": false, "zero": false}, "axis": {"values": [390, 395, 400, 405, 410], "title": "Binding energy (eV)"}},
  "y": {"field": "I", "type": "quantitative", "scale": {"domain": [0, 100], "nice": false}, "axis": null}
 },
 "layer": [
  {"data": {"name": "D_bg"}, "mark": "line", "encoding": {"color": {"datum": "background", "type": "nominal", "scale": {"domain": ["background", "N5", "N4", "N3", "raw data", "fit"], "range": ["#5080C0", "#1FA3BD", "#F08A2C", "#7A3E9D", "#F6A070", "#B8506A"]}}}},
  {"data": {"name": "D_N5"}, "mark": "line", "encoding": {"color": {"datum": "N5", "type": "nominal"}}},
  {"data": {"name": "D_N4"}, "mark": "line", "encoding": {"color": {"datum": "N4", "type": "nominal"}}},
  {"data": {"name": "D_N3"}, "mark": "line", "encoding": {"color": {"datum": "N3", "type": "nominal"}}},
  {"data": {"name": "D_raw"}, "mark": "line", "encoding": {"color": {"datum": "raw data", "type": "nominal"}}},
  {"data": {"name": "D_fit"}, "mark": "line", "encoding": {"color": {"datum": "fit", "type": "nominal"}}},
  {"data": {"name": "D_lab"}, "mark": {"type": "text", "fontSize": 13, "fontWeight": "bold", "color": "#1f1f1f"}, "encoding": {"text": {"field": "t"}}},
  {"data": {"name": "D_let"}, "mark": {"type": "text", "fontSize": 19, "fontWeight": "bold", "color": "#1f1f1f"}, "encoding": {"text": {"field": "t"}}}
 ]
},
{
 "width": 293, "height": 259,
 "encoding": {
  "x": {"field": "E", "type": "quantitative", "scale": {"domain": [520, 540], "reverse": true, "nice": false, "zero": false}, "axis": {"values": [520, 525, 530, 535, 540], "title": "Binding energy (eV)"}},
  "y": {"field": "I", "type": "quantitative", "scale": {"domain": [0, 100], "nice": false}, "axis": null}
 },
 "layer": [
  {"data": {"name": "F_bg"}, "mark": "line", "encoding": {"color": {"datum": "background", "type": "nominal", "scale": {"domain": ["background", "O3", "O2", "fit", "raw data"], "range": ["#F07A20", "#1FA3BD", "#7A3E9D", "#5A8ACB", "#F6A070"]}}}},
  {"data": {"name": "F_O3"}, "mark": "line", "encoding": {"color": {"datum": "O3", "type": "nominal"}}},
  {"data": {"name": "F_O2"}, "mark": "line", "encoding": {"color": {"datum": "O2", "type": "nominal"}}},
  {"data": {"name": "F_fit"}, "mark": "line", "encoding": {"color": {"datum": "fit", "type": "nominal"}}},
  {"data": {"name": "F_raw"}, "mark": "line", "encoding": {"color": {"datum": "raw data", "type": "nominal"}}},
  {"data": {"name": "F_lab"}, "mark": {"type": "text", "fontSize": 13, "fontWeight": "bold", "color": "#1f1f1f"}, "encoding": {"text": {"field": "t"}}},
  {"data": {"name": "F_let"}, "mark": {"type": "text", "fontSize": 19, "fontWeight": "bold", "color": "#1f1f1f"}, "encoding": {"text": {"field": "t"}}}
 ]
},
{
 "width": 293, "height": 259,
 "encoding": {
  "x": {"field": "E", "type": "quantitative", "scale": {"domain": [450, 470], "reverse": true, "nice": false, "zero": false}, "axis": {"values": [450, 455, 460, 465, 470], "title": "Binding energy (eV)"}},
  "y": {"field": "I", "type": "quantitative", "scale": {"domain": [0, 100], "nice": false}, "axis": null}
 },
 "layer": [
  {"data": {"name": "H_raw"}, "mark": "line", "encoding": {"color": {"datum": "raw data", "type": "nominal", "scale": {"domain": ["raw data"], "range": ["#F6A070"]}}}},
  {"data": {"name": "H_let"}, "mark": {"type": "text", "fontSize": 19, "fontWeight": "bold", "color": "#1f1f1f"}, "encoding": {"text": {"field": "t"}}}
 ]
}
]
}
